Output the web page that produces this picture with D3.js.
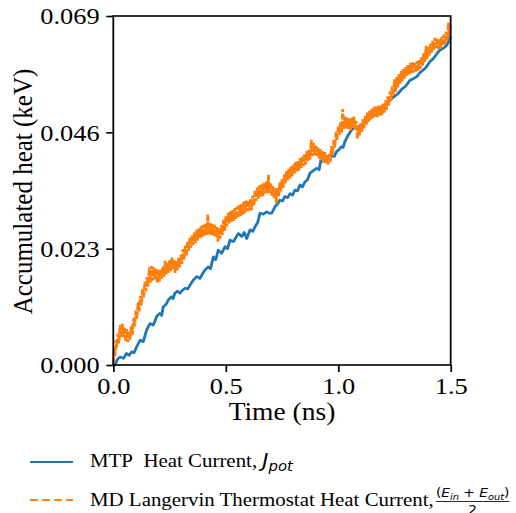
<!DOCTYPE html>
<html>
<head>
<meta charset="utf-8">
<script src="https://cdn.jsdelivr.net/npm/d3@7"></script>
<style>
  body { margin: 0; background: #fff; }
</style>
</head>
<body>
<svg width="516" height="513"></svg>
<script>
var xTicks = [0.0, 0.5, 1.0, 1.5];
var yTicks = [0.000, 0.023, 0.046, 0.069];

var seriesNames = ["MTP\u00a0 Heat Current,\u00a0", "MD Langervin Thermostat Heat Current,"];
var seriesColors = ["#1f77b4", "#ff7f0e"];

// MTP heat current, [time (ns), accumulated heat (keV)]
var mtpPoints = [
    [0.000, 0.0000], [0.007, 0.0000], [0.018, 0.0011], [0.030, 0.0016], [0.045, 0.0013],
    [0.059, 0.0023], [0.070, 0.0019], [0.082, 0.0026], [0.092, 0.0024], [0.104, 0.0036],
    [0.119, 0.0049], [0.133, 0.0046], [0.148, 0.0069], [0.163, 0.0082], [0.178, 0.0079],
    [0.193, 0.0096], [0.207, 0.0102], [0.215, 0.0098], [0.222, 0.0115], [0.235, 0.0120],
    [0.245, 0.0129], [0.259, 0.0135], [0.266, 0.0131], [0.274, 0.0142], [0.285, 0.0146],
    [0.296, 0.0142], [0.308, 0.0148], [0.319, 0.0152], [0.330, 0.0150], [0.341, 0.0158],
    [0.356, 0.0168], [0.371, 0.0175], [0.385, 0.0171], [0.396, 0.0180], [0.408, 0.0188],
    [0.422, 0.0194], [0.432, 0.0190], [0.445, 0.0214], [0.455, 0.0208], [0.467, 0.0227],
    [0.482, 0.0221], [0.497, 0.0234], [0.508, 0.0230], [0.519, 0.0247], [0.534, 0.0244],
    [0.545, 0.0252], [0.556, 0.0260], [0.571, 0.0254], [0.582, 0.0262], [0.593, 0.0250],
    [0.608, 0.0267], [0.620, 0.0264], [0.630, 0.0273], [0.642, 0.0282], [0.652, 0.0300],
    [0.667, 0.0298], [0.682, 0.0303], [0.692, 0.0300], [0.704, 0.0300], [0.719, 0.0313],
    [0.730, 0.0318], [0.741, 0.0326], [0.752, 0.0324], [0.763, 0.0333], [0.775, 0.0331],
    [0.786, 0.0339], [0.797, 0.0336], [0.808, 0.0346], [0.819, 0.0344], [0.830, 0.0356],
    [0.841, 0.0352], [0.852, 0.0362], [0.863, 0.0366], [0.874, 0.0379], [0.889, 0.0384],
    [0.904, 0.0389], [0.915, 0.0386], [0.926, 0.0412], [0.937, 0.0402], [0.949, 0.0405],
    [0.960, 0.0410], [0.971, 0.0415], [0.982, 0.0412], [0.993, 0.0422], [1.004, 0.0426],
    [1.015, 0.0432], [1.022, 0.0430], [1.030, 0.0442], [1.045, 0.0455], [1.060, 0.0465],
    [1.075, 0.0471], [1.086, 0.0466], [1.097, 0.0468], [1.112, 0.0478], [1.126, 0.0488],
    [1.141, 0.0497], [1.156, 0.0504], [1.171, 0.0501], [1.186, 0.0504], [1.200, 0.0512],
    [1.215, 0.0517], [1.226, 0.0521], [1.238, 0.0527], [1.252, 0.0532], [1.267, 0.0537],
    [1.282, 0.0545], [1.297, 0.0550], [1.308, 0.0556], [1.319, 0.0563], [1.334, 0.0566],
    [1.349, 0.0570], [1.363, 0.0578], [1.378, 0.0583], [1.393, 0.0590], [1.408, 0.0600],
    [1.419, 0.0604], [1.430, 0.0610], [1.441, 0.0617], [1.453, 0.0623], [1.464, 0.0625],
    [1.475, 0.0629], [1.485, 0.0634], [1.494, 0.0643], [1.500, 0.0650]
];

// Langevin thermostat heat current, [time (ns), accumulated heat (keV)]
var langevinPoints = [
    [0.000, 0.0003], [0.004, 0.0034], [0.008, 0.0017], [0.012, 0.0050], [0.016, 0.0034],
    [0.020, 0.0062], [0.025, 0.0043], [0.030, 0.0079], [0.035, 0.0054], [0.040, 0.0082],
    [0.045, 0.0055], [0.050, 0.0075], [0.055, 0.0046], [0.060, 0.0071], [0.065, 0.0045],
    [0.070, 0.0068], [0.075, 0.0050], [0.080, 0.0078], [0.085, 0.0060], [0.090, 0.0093],
    [0.095, 0.0077], [0.100, 0.0108], [0.105, 0.0091], [0.110, 0.0124], [0.115, 0.0106],
    [0.120, 0.0137], [0.125, 0.0118], [0.130, 0.0150], [0.135, 0.0133], [0.140, 0.0165],
    [0.145, 0.0146], [0.150, 0.0174], [0.155, 0.0155], [0.160, 0.0193], [0.165, 0.0163],
    [0.170, 0.0196], [0.175, 0.0167], [0.180, 0.0193], [0.185, 0.0170], [0.190, 0.0190],
    [0.195, 0.0162], [0.200, 0.0188], [0.205, 0.0165], [0.210, 0.0190], [0.215, 0.0171],
    [0.220, 0.0194], [0.225, 0.0174], [0.230, 0.0206], [0.235, 0.0179], [0.240, 0.0202],
    [0.245, 0.0182], [0.250, 0.0207], [0.255, 0.0186], [0.260, 0.0213], [0.265, 0.0190],
    [0.270, 0.0209], [0.275, 0.0182], [0.280, 0.0206], [0.285, 0.0187], [0.290, 0.0212],
    [0.295, 0.0193], [0.300, 0.0218], [0.305, 0.0200], [0.310, 0.0229], [0.315, 0.0209],
    [0.320, 0.0236], [0.325, 0.0216], [0.330, 0.0245], [0.335, 0.0226], [0.340, 0.0252],
    [0.345, 0.0232], [0.350, 0.0257], [0.355, 0.0237], [0.360, 0.0262], [0.365, 0.0241],
    [0.370, 0.0267], [0.375, 0.0246], [0.380, 0.0270], [0.385, 0.0251], [0.390, 0.0275],
    [0.395, 0.0253], [0.400, 0.0277], [0.405, 0.0254], [0.410, 0.0279], [0.415, 0.0257],
    [0.420, 0.0298], [0.425, 0.0258], [0.430, 0.0281], [0.435, 0.0257], [0.440, 0.0279],
    [0.445, 0.0255], [0.450, 0.0277], [0.455, 0.0253], [0.460, 0.0273], [0.465, 0.0244],
    [0.470, 0.0270], [0.475, 0.0250], [0.480, 0.0277], [0.485, 0.0257], [0.490, 0.0287],
    [0.495, 0.0265], [0.500, 0.0294], [0.505, 0.0274], [0.510, 0.0301], [0.515, 0.0280],
    [0.520, 0.0304], [0.525, 0.0283], [0.530, 0.0306], [0.535, 0.0285], [0.540, 0.0310],
    [0.545, 0.0289], [0.550, 0.0313], [0.555, 0.0291], [0.560, 0.0316], [0.565, 0.0295],
    [0.570, 0.0318], [0.575, 0.0297], [0.580, 0.0323], [0.585, 0.0300], [0.590, 0.0325],
    [0.595, 0.0304], [0.600, 0.0326], [0.605, 0.0305], [0.610, 0.0329], [0.615, 0.0306],
    [0.620, 0.0335], [0.625, 0.0315], [0.630, 0.0346], [0.635, 0.0324], [0.640, 0.0351],
    [0.645, 0.0329], [0.650, 0.0355], [0.655, 0.0333], [0.660, 0.0357], [0.665, 0.0334],
    [0.670, 0.0361], [0.675, 0.0339], [0.680, 0.0363], [0.685, 0.0340], [0.690, 0.0376],
    [0.695, 0.0340], [0.700, 0.0360], [0.705, 0.0335], [0.710, 0.0355], [0.715, 0.0330],
    [0.720, 0.0350], [0.725, 0.0319], [0.730, 0.0350], [0.735, 0.0334], [0.740, 0.0361],
    [0.745, 0.0343], [0.750, 0.0368], [0.755, 0.0350], [0.760, 0.0377], [0.765, 0.0359],
    [0.770, 0.0384], [0.775, 0.0365], [0.780, 0.0389], [0.785, 0.0369], [0.790, 0.0393],
    [0.795, 0.0373], [0.800, 0.0396], [0.805, 0.0378], [0.810, 0.0401], [0.815, 0.0382],
    [0.820, 0.0403], [0.825, 0.0384], [0.830, 0.0409], [0.835, 0.0389], [0.840, 0.0412],
    [0.845, 0.0393], [0.850, 0.0417], [0.855, 0.0396], [0.860, 0.0423], [0.865, 0.0403],
    [0.870, 0.0426], [0.875, 0.0406], [0.880, 0.0445], [0.885, 0.0413], [0.890, 0.0439],
    [0.895, 0.0414], [0.900, 0.0433], [0.905, 0.0413], [0.910, 0.0431], [0.915, 0.0408],
    [0.920, 0.0427], [0.925, 0.0405], [0.930, 0.0423], [0.935, 0.0400], [0.940, 0.0421],
    [0.945, 0.0399], [0.950, 0.0417], [0.955, 0.0396], [0.960, 0.0419], [0.965, 0.0401],
    [0.970, 0.0433], [0.975, 0.0414], [0.980, 0.0445], [0.985, 0.0430], [0.990, 0.0461],
    [0.995, 0.0444], [1.000, 0.0473], [1.005, 0.0455], [1.010, 0.0481], [1.015, 0.0460],
    [1.020, 0.0506], [1.025, 0.0467], [1.030, 0.0491], [1.035, 0.0468], [1.040, 0.0489],
    [1.045, 0.0467], [1.050, 0.0487], [1.055, 0.0464], [1.060, 0.0489], [1.065, 0.0469],
    [1.070, 0.0491], [1.075, 0.0466], [1.080, 0.0483], [1.085, 0.0447], [1.090, 0.0475],
    [1.095, 0.0454], [1.100, 0.0479], [1.105, 0.0461], [1.110, 0.0487], [1.115, 0.0468],
    [1.120, 0.0493], [1.125, 0.0475], [1.130, 0.0499], [1.135, 0.0480], [1.140, 0.0503],
    [1.145, 0.0485], [1.150, 0.0507], [1.155, 0.0488], [1.160, 0.0511], [1.165, 0.0491],
    [1.170, 0.0511], [1.175, 0.0490], [1.180, 0.0513], [1.185, 0.0493], [1.190, 0.0513],
    [1.195, 0.0494], [1.200, 0.0517], [1.205, 0.0499], [1.210, 0.0523], [1.215, 0.0504],
    [1.220, 0.0531], [1.225, 0.0513], [1.230, 0.0541], [1.235, 0.0522], [1.240, 0.0551],
    [1.245, 0.0533], [1.250, 0.0565], [1.255, 0.0540], [1.260, 0.0569], [1.265, 0.0549],
    [1.270, 0.0575], [1.275, 0.0556], [1.280, 0.0581], [1.285, 0.0561], [1.290, 0.0585],
    [1.295, 0.0566], [1.300, 0.0589], [1.305, 0.0571], [1.310, 0.0593], [1.315, 0.0574],
    [1.320, 0.0597], [1.325, 0.0577], [1.330, 0.0599], [1.335, 0.0578], [1.340, 0.0597],
    [1.345, 0.0579], [1.350, 0.0601], [1.355, 0.0582], [1.360, 0.0603], [1.365, 0.0585],
    [1.370, 0.0609], [1.375, 0.0592], [1.380, 0.0617], [1.385, 0.0599], [1.390, 0.0631],
    [1.395, 0.0604], [1.400, 0.0629], [1.405, 0.0611], [1.410, 0.0635], [1.415, 0.0616],
    [1.420, 0.0641], [1.425, 0.0623], [1.430, 0.0647], [1.435, 0.0626], [1.440, 0.0645],
    [1.445, 0.0625], [1.450, 0.0645], [1.455, 0.0626], [1.460, 0.0649], [1.465, 0.0631],
    [1.470, 0.0653], [1.475, 0.0634], [1.480, 0.0659], [1.485, 0.0641], [1.490, 0.0677],
    [1.495, 0.0648], [1.500, 0.0672]
];

var serifFont = "'Liberation Serif', 'Times New Roman'";
var mathFont = "'DejaVu Sans'";

// the reference is stretched a little sideways, so draw everything in a squeezed frame
var sx = 1.1;
var svg = d3.select("svg");
var g = svg.append("g").attr("transform", "scale(" + sx + ",1)");

var xScale = d3.scaleLinear().domain([0, 1.5]).range([103, 409.7]);
var yScale = d3.scaleLinear().domain([0, 0.069]).range([365, 16]);

var line = d3.line()
    .x(d => xScale(d[0]))
    .y(d => yScale(d[1]));

// Blue series
g.append("path")
    .datum(mtpPoints)
    .attr("d", line)
    .attr("fill", "none")
    .attr("stroke", seriesColors[0])
    .attr("stroke-width", 2.6)
    .attr("stroke-linejoin", "round");

// Orange series, dashed
g.append("path")
    .datum(langevinPoints)
    .attr("d", line)
    .attr("fill", "none")
    .attr("stroke", seriesColors[1])
    .attr("stroke-width", 2.4)
    .attr("stroke-dasharray", "6,1.5");

// Axes
g.append("g")
    .attr("transform", "translate(" + xScale(0) + ",0)")
    .call(d3.axisLeft(yScale).tickValues(yTicks).tickFormat(d3.format(".3f")).tickSize(6.4).tickPadding(6));

g.append("g")
    .attr("transform", "translate(0," + yScale(0) + ")")
    .call(d3.axisBottom(xScale).tickValues(xTicks).tickFormat(d3.format(".1f")).tickSize(7).tickPadding(5));

g.selectAll(".domain").remove();
g.selectAll(".tick line").attr("stroke", "#000").attr("stroke-width", 1.6);
g.selectAll(".tick text")
    .attr("font-family", null)
    .style("font-family", serifFont)
    .style("font-size", "24px")
    .attr("fill", "#000");

// Frame
g.append("rect")
    .attr("x", xScale(0))
    .attr("y", yScale(0.069))
    .attr("width", xScale(1.5) - xScale(0))
    .attr("height", yScale(0) - yScale(0.069))
    .attr("fill", "none")
    .attr("stroke", "#000")
    .attr("stroke-width", 1.6);

// Axis labels
g.append("text")
    .attr("x", (xScale(0) + xScale(1.5)) / 2)
    .attr("y", 420)
    .attr("text-anchor", "middle")
    .style("font-family", serifFont)
    .style("font-size", "25px")
    .text("Time (ns)");

g.append("text")
    .attr("transform", "translate(29," + (yScale(0.0345) + 1) + ") rotate(-90)")
    .attr("text-anchor", "middle")
    .style("font-family", serifFont)
    .style("font-size", "25px")
    .text("Accumulated heat (keV)");

// Legend
var legendRows = [
    { y: 462, base: 467, dash: null },
    { y: 500, base: 506, dash: "7,4" }
];

legendRows.forEach(function (row, i) {
    g.append("line")
        .attr("x1", 27.3)
        .attr("x2", 66.4)
        .attr("y1", row.y)
        .attr("y2", row.y)
        .attr("stroke", seriesColors[i])
        .attr("stroke-width", 2)
        .attr("stroke-dasharray", row.dash);
});

var label1 = g.append("text")
    .attr("x", 81.8)
    .attr("y", legendRows[0].base)
    .style("font-family", serifFont)
    .style("font-size", "19px");
label1.append("tspan").text(seriesNames[0]);
label1.append("tspan").style("font-family", mathFont).style("font-style", "italic").text("J");
label1.append("tspan").style("font-family", mathFont).style("font-style", "italic")
    .attr("dy", 4).style("font-size", "13.5px").text("pot");

var label2 = g.append("text")
    .attr("x", 81.8)
    .attr("y", legendRows[1].base)
    .style("font-family", serifFont)
    .style("font-size", "19px")
    .text(seriesNames[1]);

// Fraction (E_in + E_out) / 2 after the second label
var fracLeft = 81.8 + label2.node().getComputedTextLength() + 2;
var frac = g.append("g");
var num = frac.append("text")
    .attr("y", 497.5)
    .attr("text-anchor", "middle")
    .style("font-family", mathFont)
    .style("font-size", "12.5px");
num.append("tspan").text("(");
num.append("tspan").style("font-style", "italic").text("E");
num.append("tspan").attr("dy", 2.5).style("font-style", "italic").style("font-size", "9px").text("in");
num.append("tspan").attr("dy", -2.5).text("\u00a0+\u00a0");
num.append("tspan").style("font-style", "italic").text("E");
num.append("tspan").attr("dy", 2.5).style("font-style", "italic").style("font-size", "9px").text("out");
num.append("tspan").attr("dy", -2.5).text(")");
var numWidth = num.node().getComputedTextLength();
var fracMid = fracLeft + numWidth / 2;
num.attr("x", fracMid);

frac.append("line")
    .attr("x1", fracLeft)
    .attr("x2", fracLeft + numWidth)
    .attr("y1", 501.5)
    .attr("y2", 501.5)
    .attr("stroke", "#000")
    .attr("stroke-width", 0.8);

frac.append("text")
    .attr("x", fracMid)
    .attr("y", 514)
    .attr("text-anchor", "middle")
    .style("font-family", mathFont)
    .style("font-size", "12.5px")
    .text("2");
</script>
</body>
</html>
